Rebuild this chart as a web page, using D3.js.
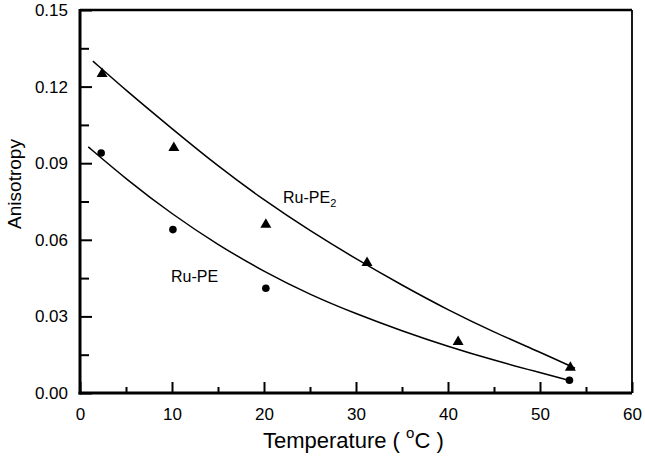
<!DOCTYPE html>
<html>
<head>
<meta charset="utf-8">
<script src="https://cdn.jsdelivr.net/npm/d3@7"></script>
<style>
  html, body { margin: 0; padding: 0; background: #fff; }
  svg { display: block; font-family: "Liberation Sans", Arial, sans-serif; }
</style>
</head>
<body>
<svg id="chart" width="645" height="460"></svg>
<script>
// ---- data ----
const tempPE2 = [2.4, 10.2, 20.2, 31.2, 41.1, 53.3];
const anisoPE2 = [0.125, 0.096, 0.066, 0.051, 0.020, 0.010];
const tempPE = [2.3, 10.1, 20.2, 53.2];
const anisoPE = [0.094, 0.064, 0.041, 0.005];

const fitTempPE2 = [1.4, 5, 10, 15, 20, 25, 30, 35, 40, 45, 50, 53.8];
const fitAnisoPE2 = [0.130, 0.1185, 0.1035, 0.0888, 0.0755, 0.0635, 0.0525, 0.0422, 0.0325, 0.0238, 0.0160, 0.0097];
const fitTempPE = [0.9, 5, 10, 15, 20, 25, 30, 35, 40, 45, 50, 53];
const fitAnisoPE = [0.0964, 0.0838, 0.0700, 0.0580, 0.0475, 0.0385, 0.0310, 0.0243, 0.0182, 0.0128, 0.0080, 0.0051];

const xTicks = [0, 10, 20, 30, 40, 50, 60];
const xMinorTicks = [5, 15, 25, 35, 45, 55];
const yTicks = [0, 0.03, 0.06, 0.09, 0.12, 0.15];
const yMinorTicks = [0.015, 0.045, 0.075, 0.105, 0.135];

// ---- layout ----
const L = 80, R = 632, T = 10, B = 393;
const svg = d3.select("#chart");
const x = d3.scaleLinear().domain([0, 60]).range([L, R]);
const y = d3.scaleLinear().domain([0, 0.15]).range([B, T]);

// axes
const gx = svg.append("g").attr("transform", `translate(0,${B})`)
  .call(d3.axisBottom(x).tickValues(xTicks).tickSize(-11).tickPadding(15).tickFormat(d3.format("d")));
const gxm = svg.append("g").attr("transform", `translate(0,${B})`)
  .call(d3.axisBottom(x).tickValues(xMinorTicks).tickSize(-6).tickFormat(""));
const gy = svg.append("g").attr("transform", `translate(${L},0)`)
  .call(d3.axisLeft(y).tickValues(yTicks).tickSize(-12).tickPadding(12).tickFormat(d3.format(".2f")));
const gym = svg.append("g").attr("transform", `translate(${L},0)`)
  .call(d3.axisLeft(y).tickValues(yMinorTicks).tickSize(-9).tickFormat(""));

[gx, gxm, gy, gym].forEach(g => {
  g.select(".domain").remove();
  g.selectAll(".tick line").attr("stroke", "#000").attr("stroke-width", 2);
  g.selectAll(".tick text").attr("fill", "#000").attr("font-size", 17)
    .attr("font-family", "Liberation Sans, Arial, sans-serif");
});

// frame
svg.append("line").attr("x1", L).attr("x2", R).attr("y1", T).attr("y2", T)
  .attr("stroke", "#000").attr("stroke-width", 2.5);
svg.append("line").attr("x1", R).attr("x2", R).attr("y1", T).attr("y2", B)
  .attr("stroke", "#000").attr("stroke-width", 1.8);
svg.append("line").attr("x1", L).attr("x2", L).attr("y1", T - 1).attr("y2", B + 1.5)
  .attr("stroke", "#000").attr("stroke-width", 3);
svg.append("line").attr("x1", L - 1.5).attr("x2", R).attr("y1", B).attr("y2", B)
  .attr("stroke", "#000").attr("stroke-width", 3);

// fitted curves
const line = d3.line().x(d => x(d[0])).y(d => y(d[1])).curve(d3.curveBasis);
svg.append("path").datum(d3.zip(fitTempPE2, fitAnisoPE2)).attr("d", line)
  .attr("fill", "none").attr("stroke", "#000").attr("stroke-width", 1.5);
svg.append("path").datum(d3.zip(fitTempPE, fitAnisoPE)).attr("d", line)
  .attr("fill", "none").attr("stroke", "#000").attr("stroke-width", 1.5);

// markers
const tri = d3.symbol().type(d3.symbolTriangle).size(52);
svg.append("g").selectAll("path").data(d3.zip(tempPE2, anisoPE2)).join("path")
  .attr("d", tri).attr("transform", d => `translate(${x(d[0])},${y(d[1])})`).attr("fill", "#000");
svg.append("g").selectAll("circle").data(d3.zip(tempPE, anisoPE)).join("circle")
  .attr("cx", d => x(d[0])).attr("cy", d => y(d[1])).attr("r", 3.8).attr("fill", "#000");

// series labels
const lab2 = svg.append("text").attr("x", 283).attr("y", 203).attr("font-size", 16).attr("fill", "#000");
lab2.append("tspan").text("Ru-PE");
lab2.append("tspan").attr("font-size", 11).attr("dy", 4).text("2");
svg.append("text").attr("x", 171).attr("y", 282).attr("font-size", 16).attr("fill", "#000").text("Ru-PE");

// axis titles
const xt = svg.append("text").attr("x", 263).attr("y", 448).attr("font-size", 22).attr("fill", "#000");
xt.append("tspan").text("Temperature ( ");
xt.append("tspan").attr("font-size", 15).attr("dy", -10).text("o");
xt.append("tspan").attr("dy", 10).text("C )");

svg.append("text").attr("transform", "translate(21,184) rotate(-90)")
  .attr("text-anchor", "middle").attr("font-size", 19).attr("fill", "#000").text("Anisotropy");
</script>
</body>
</html>
